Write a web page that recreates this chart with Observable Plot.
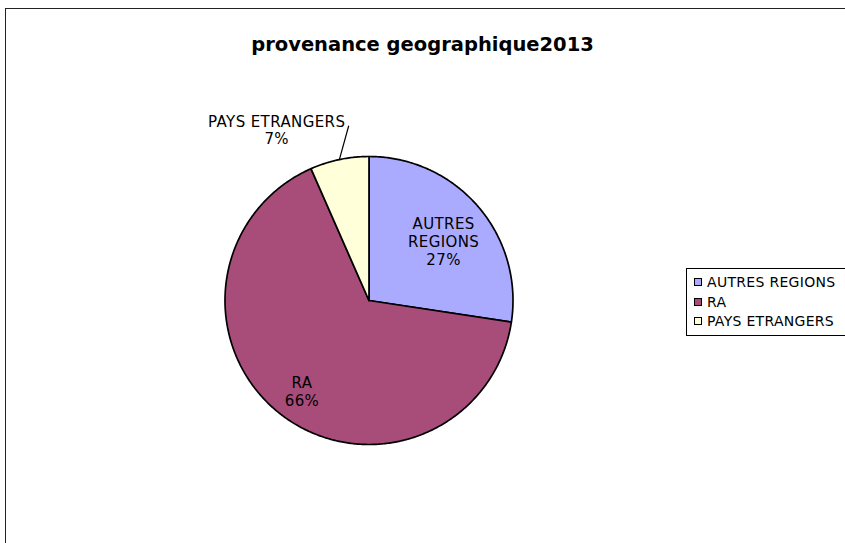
<!DOCTYPE html>
<html>
<head>
<meta charset="utf-8">
<script src="https://cdn.jsdelivr.net/npm/d3@7"></script>
<script src="https://cdn.jsdelivr.net/npm/@observablehq/plot@0.6"></script>
<style>
  html, body { margin: 0; padding: 0; background: #fff; }
  #wrap { position: relative; width: 845px; height: 543px; overflow: hidden; font-family: "DejaVu Sans", Verdana, sans-serif; }
  #frame { position: absolute; left: 5px; top: 8px; width: 870px; height: 570px; border: 1.5px solid #222; box-sizing: border-box; }
  #title { position: absolute; left: 0; width: 845px; top: 33px; text-align: center; font-weight: bold; font-size: 19.5px; color: #000; }
  #chart { position: absolute; left: 0; top: 0; }
  #legend { position: absolute; left: 686px; top: 268px; width: 190px; height: 68px; border: 1px solid #000; box-sizing: border-box; background: #fff; }
  .row { position: absolute; left: 7px; font-size: 14px; letter-spacing: 0.3px; line-height: 15px; color: #000; white-space: nowrap; }
  .sw { display: inline-block; width: 6px; height: 6px; border: 1px solid #000; margin-right: 5px; vertical-align: 1px; }
</style>
</head>
<body>
<div id="wrap">
  <div id="frame"></div>
  <div id="chart"></div>
  <div id="title">provenance geographique2013</div>
  <div id="legend"></div>
</div>
<script>
const categories = ["AUTRES REGIONS", "RA", "PAYS ETRANGERS"];
const values = [27.4, 66.0, 6.6];
const colors = ["#AAAAFF", "#A84C7A", "#FFFFD9"];
const chartTitle = "provenance geographique2013";

const total = d3.sum(values);
const pct = values.map(v => Math.round(v / total * 100) + "%");
const arcs = d3.pie().sort(null).value(d => d)(values);

// slice outlines in unit-circle coordinates (angle clockwise from top)
const slices = arcs.map((a, i) => {
  const n = Math.max(8, Math.ceil((a.endAngle - a.startAngle) / 0.01));
  const pts = [{x: 0, y: 0}];
  for (let k = 0; k <= n; k++) {
    const t = a.startAngle + (a.endAngle - a.startAngle) * k / n;
    pts.push({x: Math.sin(t), y: Math.cos(t)});
  }
  pts.push({x: 0, y: 0});
  return pts;
});

const mid = arcs.map(a => (a.startAngle + a.endAngle) / 2);
const inside = [0, 1].map(i => ({
  x: 0.72 * Math.sin(mid[i]),
  y: 0.72 * Math.cos(mid[i]),
  text: categories[i].replace(" ", "\n") + "\n" + pct[i]
}));
const p = 2;
const edge = {x: Math.sin(mid[p]), y: Math.cos(mid[p])};
const leader = [{x1: edge.x, y1: edge.y, x2: edge.x + 0.065, y2: edge.y + 0.235}];
const outside = [{x: leader[0].x2, y: leader[0].y2, text: categories[p] + "\n" + pct[p]}];

const font = {fontFamily: "DejaVu Sans, Verdana, sans-serif", fontSize: 15, lineHeight: 1.2, fill: "#000"};

const chart = Plot.plot({
  width: 845,
  height: 543,
  margin: 0,
  x: {domain: [-1, 1], range: [224.5, 512.5], axis: null},
  y: {domain: [-1, 1], range: [444, 156], axis: null},
  style: {background: "transparent", overflow: "visible", letterSpacing: "0.4px"},
  marks: [
    ...slices.map((s, i) => Plot.line(s, {x: "x", y: "y", fill: colors[i], stroke: "#000", strokeWidth: 1.7, strokeLinejoin: "round"})),
    Plot.text(inside, {x: "x", y: "y", text: "text", dx: -4, dy: 8, ...font}),
    Plot.link(leader, {x1: "x1", y1: "y1", x2: "x2", y2: "y2", stroke: "#000", strokeWidth: 1.2}),
    Plot.text(outside, {x: "x", y: "y", text: "text", dx: -72, dy: 4, ...font})
  ]
});
document.getElementById("chart").appendChild(chart);
document.getElementById("title").textContent = chartTitle;

const legend = document.getElementById("legend");
categories.forEach((c, i) => {
  const row = document.createElement("div");
  row.className = "row";
  row.style.top = (6 + i * 19.7) + "px";
  const sw = document.createElement("span");
  sw.className = "sw";
  sw.style.background = colors[i];
  row.appendChild(sw);
  row.appendChild(document.createTextNode(c));
  legend.appendChild(row);
});
</script>
</body>
</html>
